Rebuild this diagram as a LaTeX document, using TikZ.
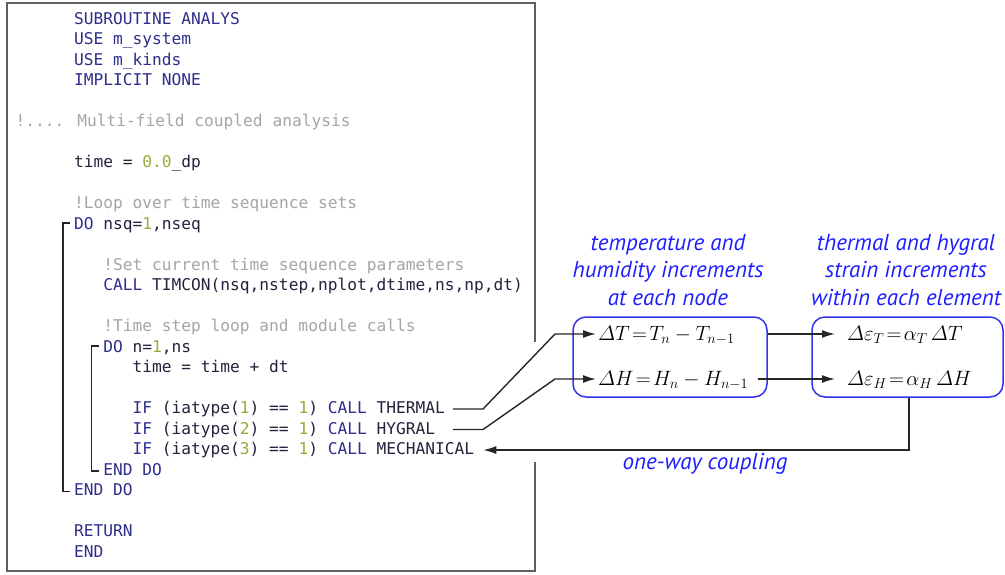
\documentclass[tikz,border=0pt]{standalone}
\usepackage{amsmath}
\usepackage{fontspec}
\usetikzlibrary{arrows.meta,calc}
\newfontfamily\codefont{DejaVu Sans Mono}
\newfontfamily\lblfont{PT Sans}
\definecolor{kwc}{RGB}{45,45,140}
\definecolor{idc}{RGB}{35,35,60}
\definecolor{numc}{RGB}{150,170,60}
\definecolor{cmc}{RGB}{165,165,165}
\definecolor{boxc}{RGB}{50,50,235}
\definecolor{lblc}{RGB}{30,30,255}
\definecolor{framec}{RGB}{95,95,95}
\newcommand\KW[1]{\textcolor{kwc}{#1}}
\newcommand\NM[1]{\textcolor{numc}{#1}}
\newcommand\CM[1]{\textcolor{cmc}{#1}}
\begin{document}
\begin{tikzpicture}[x=1pt,y=-1pt,
  code/.style={anchor=base west,inner sep=0pt,font=\codefont\fontsize{16.2}{19}\selectfont,text=idc},
  brk/.style={draw=black!85,line width=1.5pt},
  wire/.style={draw=black!85,line width=1.4pt},
  arr/.style={wire,-{Latex[length=13pt,width=8pt]}},
  blbox/.style={draw=boxc,line width=1.5pt,rounded corners=13pt,minimum height=80pt,inner sep=0pt},
  eqn/.style={anchor=base west,inner sep=0pt,font=\fontsize{20}{24}\selectfont},
  lbl/.style={inner sep=0pt,align=center,text=lblc,font=\lblfont\itshape\fontsize{23}{27.5}\selectfont},
  frm/.style={draw=framec,line width=1.6pt}]
\useasboundingbox (0,0) rectangle (1005,574);
\fill[white] (0,0) rectangle (1005,574);
% frame
\draw[frm] (535,342) -- (535,3) -- (7,3) -- (7,571) -- (535,571) -- (535,462);
% code lines
\node[code] (l0) at (74,24) {\KW{SUBROUTINE ANALYS}};
\node[code] (l1) at (74,44.5) {\KW{USE m\_system}};
\node[code] (l2) at (74,65) {\KW{USE m\_kinds}};
\node[code] (l3) at (74,85.5) {\KW{IMPLICIT NONE}};
\node[code] (l5) at (15.5,126.5) {\CM{!.... Multi-field coupled analysis}};
\node[code] (l7) at (74,167.5) {time = \NM{0.0}\_dp};
\node[code] (l9) at (74,208.5) {\CM{!Loop over time sequence sets}};
\node[code] (l10) at (74,229) {\KW{DO} nsq=\NM{1},nseq};
\node[code] (l12) at (103.25,270) {\CM{!Set current time sequence parameters}};
\node[code] (l13) at (103.25,290.5) {\KW{CALL} TIMCON(nsq,nstep,nplot,dtime,ns,np,dt)};
\node[code] (l15) at (103.25,331.5) {\CM{!Time step loop and module calls}};
\node[code] (l16) at (103.25,352) {\KW{DO} n=\NM{1},ns};
\node[code] (l17) at (132.5,372.5) {time = time + dt};
\node[code] (l19) at (132.5,413.5) {\KW{IF} (iatype(\NM{1}) == \NM{1}) \KW{CALL} THERMAL};
\node[code] (l20) at (132.5,434) {\KW{IF} (iatype(\NM{2}) == \NM{1}) \KW{CALL} HYGRAL};
\node[code] (l21) at (132.5,454.5) {\KW{IF} (iatype(\NM{3}) == \NM{1}) \KW{CALL} MECHANICAL};
\node[code] (l22) at (103.25,475) {\KW{END DO}};
\node[code] (l23) at (74,495.5) {\KW{END DO}};
\node[code] (l25) at (74,536.5) {\KW{RETURN}};
\node[code] (l26) at (74,557) {\KW{END}};
% loop brackets
\draw[brk] ($(l10.base west)+(-4,-6)$) -- ($(l10.base west)+(-11,-6)$) -- ($(l23.base west)+(-11,-4)$) -- ($(l23.base west)+(-4,-4)$);
\draw[brk] ($(l16.base west)+(-4,-6)$) -- ($(l16.base west)+(-12,-6)$) -- ($(l22.base west)+(-12,-4)$) -- ($(l22.base west)+(-4,-4)$);
% boxes
\node[blbox,minimum width=194pt] (b1) at (670,357) {};
\node[blbox,minimum width=191pt] (b2) at (907.5,357) {};
% equations
\node[eqn] (eT) at (598,340) {$\varDelta T\!=\!T_n - T_{n-1}$};
\node[eqn] (eH) at (598,385) {$\varDelta H\!=\!H_n - H_{n-1}$};
\node[eqn] (sT) at (847,340) {$\varDelta\varepsilon_T\!=\!\alpha_T\,\varDelta T$};
\node[eqn] (sH) at (847,385) {$\varDelta\varepsilon_H\!=\!\alpha_H\,\varDelta H$};
% labels
\node[lbl] (t1) at (668,270) {temperature and\\humidity increments\\at each node};
\node[lbl] (t2) at (906,270) {thermal and hygral\\strain increments\\within each element};
\node[lbl] (t3) at (705,464) {one-way coupling};
% connectors
\coordinate (cT) at ($(l19.east)+(8,0)$);
\coordinate (cH) at ($(l20.east -| l19.east)+(8,0)$);
\draw[arr] (cT) -- ++(30,0) -- ($(eT.base west)+(-43,-6)$) -- ($(eT.base west)+(-2,-6)$);
\draw[arr] (cH) -- ++(30,0) -- ($(eH.base west)+(-43,-6)$) -- ($(eH.base west)+(-2,-6)$);
\draw[arr] ($(b1.east |- eT.base)+(0,-6)$) -- ($(sT.base west)+(-12,-6)$);
\draw[arr] ($(b1.east |- eH.base)+(-10,-6)$) -- ($(sH.base west)+(-12,-6)$);
\draw[arr] ([xshift=1.5pt]b2.south) -- ($(b2.south |- l21.east)+(1.5,0)$) -- ($(l21.east)+(9,0)$);
\end{tikzpicture}
\end{document}
